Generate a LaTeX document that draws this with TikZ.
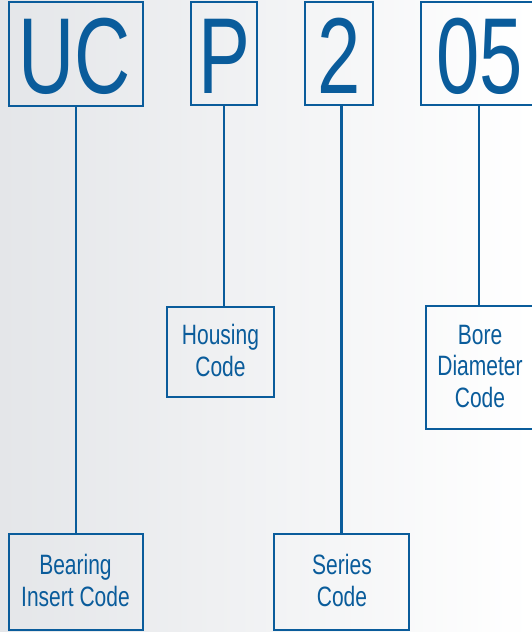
\documentclass[tikz,border=0pt]{standalone}
\usepackage{fontspec}
\setmainfont{Liberation Sans}
\newfontfamily\bigf[FakeStretch=0.72]{Liberation Sans}
\newfontfamily\smallf[FakeStretch=0.75]{Liberation Sans}
\definecolor{ucblue}{RGB}{10,92,155}
\definecolor{bgleft}{RGB}{228,230,233}
\begin{document}
\begin{tikzpicture}[x=1pt,y=-1pt,
  codebox/.style={draw=ucblue, line width=2.8pt, inner sep=0pt, outer sep=0pt},
  bigtxt/.style={text=ucblue, font=\bigf\fontsize{108}{108}\selectfont, inner sep=0pt, anchor=base},
  lbl/.style={text=ucblue, font=\smallf\fontsize{28}{31.5}\selectfont, align=center, inner sep=0pt, anchor=base},
  link/.style={draw=ucblue, line width=2.4pt}]
\shade[left color=bgleft, right color=white] (0,0) rectangle (531,632);
\useasboundingbox (0,0) rectangle (531,632);
% code boxes
\node[codebox, minimum width=134pt, minimum height=104pt] (ucbox) at (76,54) {};
\node[codebox, minimum width=66pt, minimum height=103pt] (pbox) at (224,53.5) {};
\node[codebox, minimum width=68pt, minimum height=103pt] (twobox) at (339,53.5) {};
\node[codebox, minimum width=116pt, minimum height=103pt] (zerobox) at (479,53.5) {};
\node[bigtxt] (uctxt) at (75,93) {UC};
\node[bigtxt] (ptxt) at (224,93) {P};
\node[bigtxt] (twotxt) at (339,93) {2};
\node[bigtxt] (zerotxt) at (479.5,93) {05};
% label boxes
\node[codebox, minimum width=107pt, minimum height=90pt] (housebox) at (220.5,352) {};
\node[codebox, minimum width=108pt, minimum height=123pt] (borebox) at (480,367.5) {};
\node[codebox, minimum width=134pt, minimum height=96pt] (bearbox) at (76,582) {};
\node[codebox, minimum width=135pt, minimum height=96pt] (serbox) at (341.5,582) {};
\node[lbl] (housetxt) at (220.5,376) {Housing\\Code};
\node[lbl] (boretxt) at (480,407) {Bore\\Diameter\\Code};
\node[lbl] (beartxt) at (75.5,606) {Bearing\\Insert Code};
\node[lbl] (sertxt) at (342,606) {Series\\Code};
% connectors
\draw[link] (ucbox.south) -- (ucbox.south |- bearbox.north);
\draw[link] (pbox.south) -- (pbox.south |- housebox.north);
\draw[link] (serbox.north |- twobox.south) -- (serbox.north);
\draw[link] (zerobox.south) -- (zerobox.south |- borebox.north);
\end{tikzpicture}
\end{document}
